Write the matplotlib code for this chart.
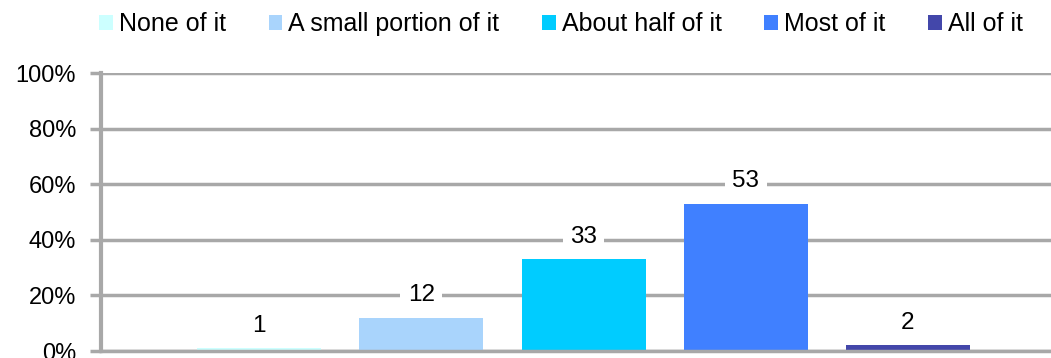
import matplotlib
matplotlib.use("Agg")
import matplotlib.pyplot as plt
from matplotlib.patches import Patch
from matplotlib.ticker import FuncFormatter

categories = ["None of it", "A small portion of it", "About half of it", "Most of it", "All of it"]
values = [1, 12, 33, 53, 2]
colors = ["#CCFFFF", "#A9D4FC", "#00CCFF", "#4080FF", "#4347AA"]
yticks = [0, 20, 40, 60, 80, 100]

plt.rcParams['font.family'] = ['Liberation Sans', 'DejaVu Sans']

W, H = 1051, 358
fig = plt.figure(figsize=(W / 100, H / 100), dpi=100)
ax = fig.add_axes([101 / W, 7 / H, 1 - 101 / W, (351 - 73) / H])

x = list(range(len(categories)))
bars = ax.bar(x, values, width=124 / 162.25, color=colors, zorder=2)

for xi, v in zip(x, values):
    ax.annotate(str(v), (xi, v), xytext=(0, 16), textcoords="offset points",
                ha="center", va="center", fontsize=17.5, color="black", zorder=4,
                bbox=dict(boxstyle="square,pad=0.3", fc="white", ec="none"))

ax.set_ylim(0, 100)
ax.set_xlim((101 - 259) / 162.25, (1051 - 259) / 162.25)
ax.set_yticks(yticks)
ax.yaxis.set_major_formatter(FuncFormatter(lambda v, p: f"{int(v)}%"))
ax.set_xticks([])
ax.tick_params(axis="y", length=8, width=2.5, color="#A8A8A8", pad=10, labelsize=17)
ax.grid(axis="y", color="#A8A8A8", linewidth=2.5, zorder=1)
ax.set_axisbelow(True)
for s in ["top", "right"]:
    ax.spines[s].set_visible(False)
ax.spines["left"].set_color("#A8A8A8")
ax.spines["left"].set_linewidth(3)
ax.spines["bottom"].set_color("#A8A8A8")
ax.spines["bottom"].set_linewidth(2.5)

handles = [Patch(facecolor=c, edgecolor="none") for c in colors]
fig.legend(handles, categories, loc="center", bbox_to_anchor=(561 / W, 1 - 24 / H),
           ncol=5, frameon=False, fontsize=18, handlelength=0.55, handleheight=0.55,
           handletextpad=0.25, columnspacing=1.7, borderaxespad=0, borderpad=0)

fig.savefig("out.png", dpi=100)
